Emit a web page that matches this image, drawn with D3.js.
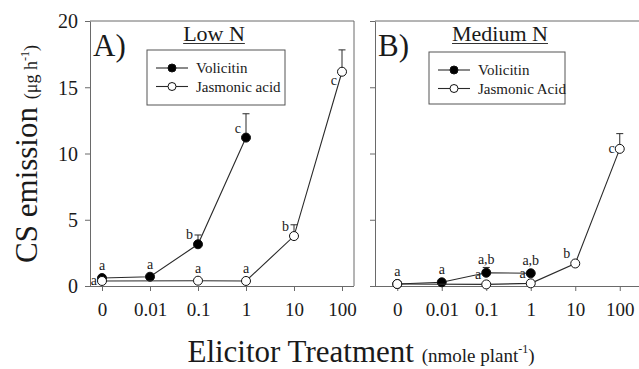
<!DOCTYPE html>
<html>
<head>
<meta charset="utf-8">
<script src="https://cdn.jsdelivr.net/npm/d3@7"></script>
<style>
  body { margin: 0; background: #fff; }
  svg { display: block; }
  svg text { font-family: "Liberation Serif", "Times New Roman", serif; }
</style>
</head>
<body>
<svg id="chart" width="639" height="369"></svg>
<script>
const categories = ['0', '0.01', '0.1', '1', '10', '100'];
const yTicks = [0, 5, 10, 15, 20];

// Panel A, low N  (null = not measured)
const lowVolicitin = [0.6, 0.7, 3.15, 11.2, null, null];
const lowVolicitinSE = [null, null, 0.7, 1.8, null, null];
const lowJasmonic = [0.38, null, 0.4, 0.38, 3.77, 16.17];
const lowJasmonicSE = [null, null, null, null, 0.85, 1.65];
const lowLetters = [
  ['v', '0', 'a', 'top'], ['j', '0', 'a', 'leftmid'],
  ['v', '0.01', 'a', 'top'], ['v', '0.1', 'b', 'left'], ['v', '1', 'c', 'left'],
  ['j', '0.1', 'a', 'top'], ['j', '1', 'a', 'top'],
  ['j', '10', 'b', 'left'], ['j', '100', 'c', 'leftdown']
];

// Panel B, medium N
const medVolicitin = [0.15, 0.28, 1.0, 0.96, null, null];
const medVolicitinSE = [null, null, 0.4, null, null, null];
const medJasmonic = [0.15, null, 0.12, 0.2, 1.7, 10.35];
const medJasmonicSE = [null, null, null, null, null, 1.15];
const medLetters = [
  ['j', '0', 'a', 'top'], ['v', '0.01', 'a', 'top'],
  ['v', '0.1', 'a,b', 'top'], ['v', '1', 'a,b', 'top'],
  ['j', '0.1', 'a', 'left'], ['j', '1', 'a', 'left'],
  ['j', '10', 'b', 'left'], ['j', '100', 'c', 'leftmid']
];

const svg = d3.select('#chart');
const axisColor = '#6a6a6a';
const lineColor = '#2a2a2a';
const textColor = '#1a1a1a';
const plotTop = 21, plotBottom = 286;

const y = d3.scaleLinear().domain([0, 20]).range([plotBottom, plotTop]);

function panel(opts) {
  const x = d3.scalePoint().domain(categories).range([opts.left, opts.right]).padding(opts.pad);
  const g = svg.append('g');

  // frame: top + right borders
  g.append('line').attr('x1', opts.left).attr('x2', opts.right).attr('y1', plotTop).attr('y2', plotTop)
    .attr('stroke', axisColor);
  g.append('line').attr('x1', opts.right).attr('x2', opts.right).attr('y1', plotTop).attr('y2', plotBottom)
    .attr('stroke', axisColor);

  const xAxis = g.append('g').attr('transform', `translate(0,${plotBottom})`)
    .call(d3.axisBottom(x).tickSize(5).tickSizeOuter(0).tickPadding(12));
  xAxis.select('.domain').attr('d', `M${opts.left},0.5H${opts.right}`);
  xAxis.selectAll('line, path').attr('stroke', axisColor);
  xAxis.selectAll('text').attr('font-size', 19).attr('fill', textColor);
  xAxis.attr('font-family', null);

  const yAxis = g.append('g').attr('transform', `translate(${opts.left},0)`)
    .call(d3.axisLeft(y).tickValues(yTicks).tickSize(5).tickSizeOuter(0).tickPadding(7));
  yAxis.selectAll('line, path').attr('stroke', axisColor);
  yAxis.selectAll('text').attr('font-size', 20).attr('fill', textColor).attr('dy', '0.34em');
  yAxis.attr('font-family', null);
  if (!opts.yLabels) yAxis.selectAll('text').remove();

  const series = [
    { key: 'v', vals: opts.vol, se: opts.volSE, fill: '#000' },
    { key: 'j', vals: opts.ja, se: opts.jaSE, fill: '#fff' }
  ];
  const pts = {};
  series.forEach(s => {
    pts[s.key] = categories.map((c, i) => ({ c, v: s.vals[i], se: s.se[i] }))
      .filter(d => d.v != null);
  });

  const line = d3.line().x(d => x(d.c)).y(d => y(d.v));

  series.forEach(s => {
    const sg = g.append('g');
    sg.append('path').attr('d', line(pts[s.key])).attr('fill', 'none')
      .attr('stroke', lineColor).attr('stroke-width', 1.1);
    const eb = pts[s.key].filter(d => d.se != null);
    sg.selectAll('.err').data(eb).enter().append('line')
      .attr('x1', d => x(d.c)).attr('x2', d => x(d.c))
      .attr('y1', d => y(d.v)).attr('y2', d => y(d.v + d.se))
      .attr('stroke', lineColor);
    sg.selectAll('.cap').data(eb).enter().append('line')
      .attr('x1', d => x(d.c) - 3.5).attr('x2', d => x(d.c) + 3.5)
      .attr('y1', d => y(d.v + d.se)).attr('y2', d => y(d.v + d.se))
      .attr('stroke', lineColor);
    sg.selectAll('circle').data(pts[s.key]).enter().append('circle')
      .attr('cx', d => x(d.c)).attr('cy', d => y(d.v)).attr('r', 4.5)
      .attr('fill', s.fill).attr('stroke', '#111').attr('stroke-width', 1);
  });

  // significance letters
  opts.letters.forEach(([k, c, txt, side]) => {
    const d = pts[k].find(p => p.c === c);
    const px = x(c), py = y(d.v);
    const ey = d.se != null ? y(d.v + d.se) : null;
    const t = g.append('text').text(txt).attr('font-size', 14).attr('fill', textColor);
    if (side === 'top') {
      t.attr('x', px).attr('y', ey != null ? ey - 3 : py - 8).attr('text-anchor', 'middle');
    } else {
      const dy = side === 'leftdown' ? 13 : side === 'leftmid' ? 4 : -5;
      t.attr('x', px - 5).attr('y', py + dy).attr('text-anchor', 'end');
    }
  });

  // panel title
  g.append('text').attr('x', opts.left + 3).attr('y', 56).attr('font-size', 31)
    .attr('fill', textColor).text(opts.tag);
  const ttl = g.append('text').attr('x', opts.titleX).attr('y', 41).attr('font-size', 22)
    .attr('text-anchor', 'middle').attr('fill', textColor).text(opts.title);
  const w = ttl.node().getComputedTextLength();
  g.append('line').attr('x1', opts.titleX - w / 2).attr('x2', opts.titleX + w / 2)
    .attr('y1', 43.5).attr('y2', 43.5).attr('stroke', '#333').attr('stroke-width', 1.2);

  // legend
  const L = opts.legend;
  g.append('rect').attr('x', L.x).attr('y', L.y).attr('width', L.w).attr('height', L.h)
    .attr('fill', '#fff').attr('stroke', '#555');
  L.labels.forEach((lab, i) => {
    const ly = L.y + 18 + i * 18.5;
    g.append('line').attr('x1', L.x + 9).attr('x2', L.x + 41).attr('y1', ly).attr('y2', ly)
      .attr('stroke', lineColor).attr('stroke-width', 1.1);
    g.append('circle').attr('cx', L.x + 25).attr('cy', ly).attr('r', 4)
      .attr('fill', i === 0 ? '#000' : '#fff').attr('stroke', '#111');
    g.append('text').attr('x', L.x + 49).attr('y', ly + 5).attr('font-size', 15)
      .attr('fill', textColor).text(lab);
  });
}

panel({
  left: 90, right: 354, pad: 0.25, yLabels: true, tag: 'A)', title: 'Low N', titleX: 214,
  vol: lowVolicitin, volSE: lowVolicitinSE, ja: lowJasmonic, jaSE: lowJasmonicSE,
  letters: lowLetters,
  legend: { x: 147, y: 50, w: 138, h: 55, labels: ['Volicitin', 'Jasmonic acid'] }
});

panel({
  left: 375, right: 642, pad: 0.5, yLabels: false, tag: 'B)', title: 'Medium N', titleX: 500,
  vol: medVolicitin, volSE: medVolicitinSE, ja: medJasmonic, jaSE: medJasmonicSE,
  letters: medLetters,
  legend: { x: 429, y: 52, w: 136, h: 52, labels: ['Volicitin', 'Jasmonic Acid'] }
});

// axis titles
const yt = svg.append('text').attr('transform', 'translate(37,154) rotate(-90)')
  .attr('text-anchor', 'middle').attr('fill', textColor);
yt.append('tspan').attr('font-size', 31).text('CS emission ');
yt.append('tspan').attr('font-size', 18).text('(μg h');
yt.append('tspan').attr('font-size', 12).attr('dy', -8).text('-1');
yt.append('tspan').attr('font-size', 18).attr('dy', 8).text(')');

const xt = svg.append('text').attr('x', 361).attr('y', 362)
  .attr('text-anchor', 'middle').attr('fill', textColor);
xt.append('tspan').attr('font-size', 31).text('Elicitor Treatment ');
xt.append('tspan').attr('font-size', 19).text('(nmole plant');
xt.append('tspan').attr('font-size', 12).attr('dy', -9).text('-1');
xt.append('tspan').attr('font-size', 19).attr('dy', 9).text(')');
</script>
</body>
</html>
